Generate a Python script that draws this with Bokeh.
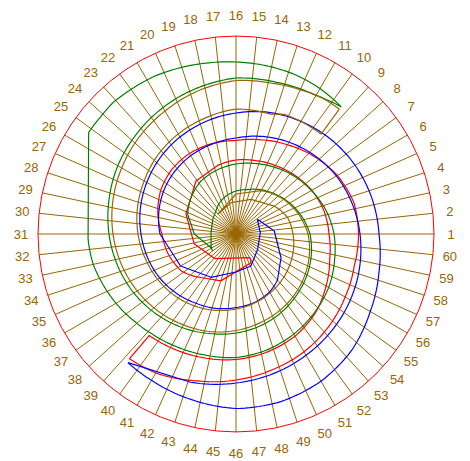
import numpy as np
from bokeh.plotting import figure
from bokeh.models import Range1d, ColumnDataSource
from bokeh.embed import file_html
from bokeh.resources import INLINE
from bokeh.core.properties import value

BROWN = "#996600"

# spoke labels (1..60, counter-clockwise from the right, 6 degrees apart)
spoke_labels = [str(i) for i in range(1, 61)]
spoke_angles = [6 * i for i in range(60)]
axis_max = 198

# ---- series (angle in degrees, radius in axis units) ----
red_inner_theta = [300.6, 229, 193, 158, 127, 105, 90, 75, 60, 45, 30, 15, 0, -15, -30, -45, -60, -75, -90, -105, -120, -130.5]
red_inner_r = [27.5, 32.6, 43, 54, 66.4, 71, 74, 76, 79, 83, 87.5, 91, 93, 97, 104, 112, 118, 122, 125.5, 128, 131, 133.5]
red_outer_theta = [297.6, 252, 231, 214, 195, 180, 165, 150, 135, 120, 105, 90, 75, 60, 45, 30, 15, 0, -15, -30, -45, -60, -75, -90, -105, -120, -130.5]
red_outer_r = [32.4, 49.3, 56, 66, 71, 74, 81, 87, 91, 93, 93.5, 93.5, 97.5, 103, 110, 117, 122, 122.5, 122.5, 126, 131, 136, 140.5, 146, 152, 160.5, 164]

blue_inner_theta = [34.5, 3, -35, -65, -90, -120, -150, -180, -195, -210, -225, -240, -255, -270, -285, -300, -315, -330, -345, -360, -375, -390, -405, -420, -435, -450, -467, -490]
blue_inner_r = [26, 24.3, 26.5, 35.3, 38, 50, 64, 76, 80, 84, 87.5, 90.5, 93, 96, 101, 106, 111, 116, 120, 124, 128, 132, 136, 140, 144.5, 149, 155, 168]
blue_outer_theta = [34.5, 4.5, -27.8, -48, -60, -75, -90, -105, -120, -135, -150, -165, -180, -195, -210, -225, -240, -255, -270, -285, -300, -315, -330, -345, -360, -375, -390, -405, -420, -435, -450, -465, -480, -490]
blue_outer_r = [26, 38.4, 50.9, 62, 67, 71, 73.5, 77, 80, 84, 88, 91.5, 95, 99, 103, 107.5, 112, 116.5, 121, 126, 130, 134, 137.5, 140.5, 143, 148, 155, 164, 170, 173.5, 174.5, 171.5, 169, 168]

green_inner_theta = [216, 206, 177, 148, 123, 105, 90, 75, 60, 45, 30, 15, 0, -15, -30, -45, -60, -75, -90, -105, -120, -135, -150, -165, -180, -195, -210, -225, -240, -255, -270, -285, -300, -309.6]
green_inner_r = [28.8, 27.7, 25, 27.5, 33.5, 39.3, 43, 46, 51, 56, 62, 68, 74, 78, 82, 86, 90.5, 95, 99, 103, 108, 113, 118, 122.5, 127, 131.5, 136.5, 141, 146, 151, 156, 157, 160, 165]
green_outer_theta = [216, 208.7, 180, 157.8, 141, 123.4, 105, 90, 75, 60, 45, 30, 15, 0, -15, -30, -45, -60, -75, -90, -105, -116, -130, -139.5, -151, -161, -168, -178, -214.6, -220.7, -227, -235, -242.5, -251.7, -260, -270, -280, -290, -300, -309.6]
green_outer_r = [28.8, 28.5, 41.7, 52.2, 57.8, 63.5, 67, 70, 73, 77, 82, 87, 93, 98, 102, 107, 111, 115.5, 120, 123.5, 125, 127, 130.5, 134, 139, 143, 146, 148, 179, 179, 180, 178.5, 177.6, 175.3, 173.5, 172, 171, 170, 168, 165]

brown_inner_theta = [133, 99, 66.6, 36, 17.5, 0, -15, -30, -45, -60, -75, -90, -105, -120, -135, -150, -165, -180, -195, -210, -225, -240, -255, -270, -286, -292, -310.4]
brown_inner_r = [26.9, 31.7, 37.8, 47.4, 54.2, 57, 59.5, 62, 65, 68, 71.5, 75, 79, 83, 87, 90.5, 94, 98, 102, 106, 111, 115.5, 120, 125, 124.7, 129, 131.2]
brown_outer_theta = [133, 90, 60, 45, 30, 15, 0, -15, -30, -45, -60, -75, -90, -105, -120, -135, -150, -165, -180, -195, -210, -225, -240, -255, -270, -283.5, -294.4, -301.6, -309.6]
brown_outer_r = [26.9, 40, 50, 55.5, 61, 66.5, 72, 76, 80, 84, 88, 92, 96.5, 101, 105, 109.5, 114, 118.5, 123, 127.5, 132, 137, 142, 148, 153.5, 155, 158, 161, 162]

series = [
    ("red", red_inner_theta, red_inner_r, red_outer_theta, red_outer_r),
    ("green", green_inner_theta, green_inner_r, green_outer_theta, green_outer_r),
    ("blue", blue_inner_theta, blue_inner_r, blue_outer_theta, blue_outer_r),
    (BROWN, brown_inner_theta, brown_inner_r, brown_outer_theta, brown_outer_r),
]


def polar_path(theta_deg, r):
    """Polar line: short steps follow the polar curve, long steps are chords."""
    xs, ys = [], []
    for i in range(len(theta_deg) - 1):
        t0, t1 = theta_deg[i], theta_deg[i + 1]
        r0, r1 = r[i], r[i + 1]
        n = 10 if abs(t1 - t0) <= 20 else 1
        f = np.linspace(0, 1, n + 1)[:-1]
        tt = np.radians(t0 + (t1 - t0) * f)
        rr = r0 + (r1 - r0) * f
        xs.extend(rr * np.cos(tt))
        ys.extend(rr * np.sin(tt))
    t = np.radians(theta_deg[-1])
    xs.append(r[-1] * np.cos(t))
    ys.append(r[-1] * np.sin(t))
    return xs, ys


p = figure(width=470, height=461,
           x_range=Range1d(-235.5, 234.5), y_range=Range1d(-227.5, 233.5),
           output_backend="svg", toolbar_location=None, min_border=0)
p.axis.visible = False
p.grid.visible = False
p.outline_line_color = None
p.background_fill_color = "white"
p.border_fill_color = "white"

# spokes
ang = np.radians(spoke_angles)
sx = axis_max * np.cos(ang)
sy = axis_max * np.sin(ang)
p.segment(x0=np.zeros(len(sx)), y0=np.zeros(len(sy)), x1=sx, y1=sy, line_color=BROWN, line_width=1)

# outer circle
p.circle(x=[0], y=[0], radius=axis_max, fill_color=None, line_color="red", line_width=1)

# spiral bands
for color, ti, ri, to, ro in series:
    th = list(ti) + list(to)[::-1] + [ti[0]]
    rr = list(ri) + list(ro)[::-1] + [ri[0]]
    x, y = polar_path(th, rr)
    p.line(x, y, line_color=color, line_width=1.2)

# labels
lr = 215 + 4 * np.sin(ang) ** 2
lx = lr * np.cos(ang)
ly = lr * np.sin(ang)
src = ColumnDataSource(dict(x=lx, y=ly, t=spoke_labels))
p.text(x="x", y="y", text="t", source=src, text_align="center", text_baseline="middle",
       text_font=value("Liberation Sans"), text_font_size="13px", text_color=BROWN)

open("out.html", "w").write(file_html(p, INLINE))
